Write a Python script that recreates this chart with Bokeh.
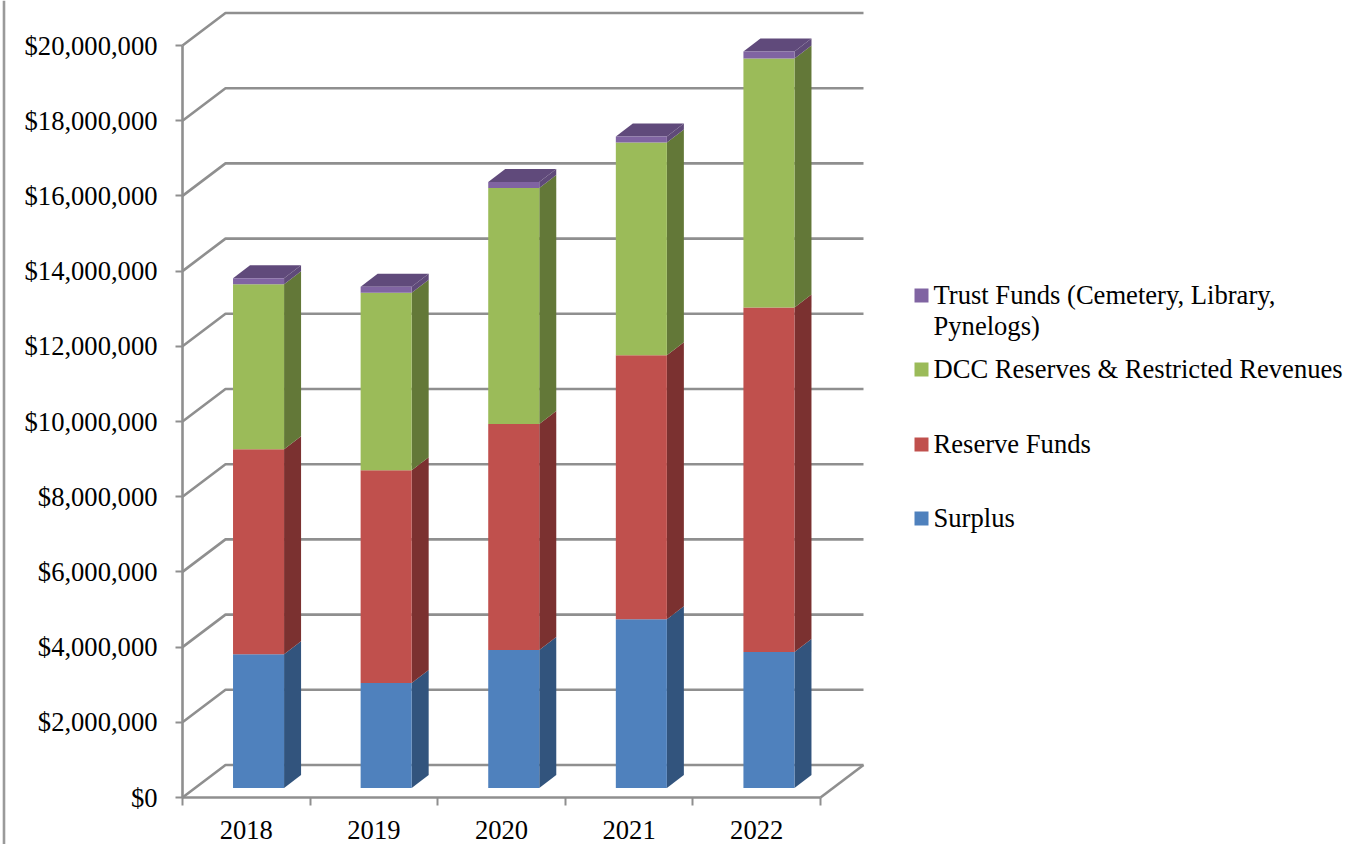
from bokeh.embed import file_html
from bokeh.resources import INLINE
from bokeh.plotting import figure
from bokeh.models import LinearAxis, FixedTicker, Range1d
from bokeh.core.properties import value

# Chart data, in millions of dollars
years = ["2018", "2019", "2020", "2021", "2022"]
surplus = [3.56, 2.79, 3.67, 4.49, 3.62]
reserve_funds = [5.45, 5.66, 6.01, 7.02, 9.16]
dcc_reserves = [4.39, 4.72, 6.28, 5.66, 6.62]
trust_funds = [0.16, 0.16, 0.16, 0.16, 0.19]

y_ticks = [0, 2, 4, 6, 8, 10, 12, 14, 16, 18, 20]
legend_labels = ["Trust Funds (Cemetery, Library,", "Pynelogs)",
                 "DCC Reserves & Restricted Revenues", "Reserve Funds", "Surplus"]

# (front, side, top) shades for each stacked series
series = [
    (surplus, "#4F81BD", "#32547D", "#3B6089"),
    (reserve_funds, "#C0504D", "#7B3130", "#8C3B39"),
    (dcc_reserves, "#9BBB59", "#637838", "#728A42"),
    (trust_funds, "#8064A2", "#5F4A79", "#604A7B"),
]

W, H = 1358, 844
PX_PER_SLOT = 127.6
PX_PER_MILLION = 37.6
ORIGIN_X, ORIGIN_Y = 182, 797
FONT = "Liberation Serif"
FONT_SIZE = "26.6px"
GRID = "#8F8F8F"
LINE_W = 2.6


def dx(px):
    return px / PX_PER_SLOT


def dy(px):
    return px / PX_PER_MILLION


def sx(px):
    return dx(px - ORIGIN_X)


def sy(px):
    return dy(ORIGIN_Y - px)


p = figure(width=W, height=H, output_backend="svg", toolbar_location=None,
           x_range=Range1d(sx(0), sx(W)), y_range=Range1d(sy(H), sy(0)),
           x_axis_type=None, y_axis_type=None, min_border=0,
           outline_line_color=None, background_fill_color="white")
p.grid.visible = False

# Outer border of the chart area, on the left edge
p.line([sx(3.5), sx(3.5)], [sy(0), sy(H)], line_color="#9A9A9A", line_width=LINE_W)

# Side wall, back wall and floor of the 3D box
wall_dx, wall_dy = dx(43), dy(32.5)
n = len(years)
for t in y_ticks:
    p.line([0, wall_dx, n + wall_dx], [t, t + wall_dy, t + wall_dy],
           line_color=GRID, line_width=LINE_W)
p.line([n, n + wall_dx], [0, wall_dy], line_color=GRID, line_width=LINE_W)

# Stacked 3D columns
bar_left, bar_width = 0.396, 0.4
depth_dx, depth_dy = dx(17), dy(13)
base = dy(9.5)
for i in range(n):
    bottom = base
    for k, (vals, front, side, top_col) in enumerate(series):
        top = bottom + vals[i]
        x0 = i + bar_left
        x1 = x0 + bar_width
        p.patch([x1, x1 + depth_dx, x1 + depth_dx, x1],
                [bottom, bottom + depth_dy, top + depth_dy, top],
                fill_color=side, line_color=None)
        if k == len(series) - 1:
            p.patch([x0, x1, x1 + depth_dx, x0 + depth_dx],
                    [top, top, top + depth_dy, top + depth_dy],
                    fill_color=top_col, line_color=None)
        p.quad(left=x0, right=x1, bottom=bottom, top=top,
               fill_color=front, line_color=None)
        bottom = top

# Value axis
y_axis = LinearAxis(fixed_location=0, bounds=(0, 20),
                    ticker=FixedTicker(ticks=y_ticks),
                    major_label_overrides={t: f"${t * 1000000:,}" for t in y_ticks})
y_axis.axis_line_color = GRID
y_axis.axis_line_width = LINE_W
y_axis.major_tick_line_color = GRID
y_axis.major_tick_line_width = 2
y_axis.major_tick_in = 0
y_axis.major_tick_out = 7
y_axis.minor_tick_line_color = None
y_axis.major_label_standoff = 18
y_axis.major_label_text_font = FONT
y_axis.major_label_text_font_size = FONT_SIZE
y_axis.major_label_text_color = "black"
p.add_layout(y_axis, "left")

# Category axis: ticks on slot boundaries, labels in slot centres
centres = [i + 0.5 for i in range(n)]
x_axis = LinearAxis(fixed_location=0, bounds=(0, n),
                    ticker=FixedTicker(ticks=centres, minor_ticks=list(range(n + 1))),
                    major_label_overrides=dict(zip(centres, years)))
x_axis.axis_line_color = GRID
x_axis.axis_line_width = LINE_W
x_axis.major_tick_line_color = None
x_axis.major_tick_in = 0
x_axis.major_tick_out = 0
x_axis.minor_tick_line_color = GRID
x_axis.minor_tick_line_width = 2
x_axis.minor_tick_in = 0
x_axis.minor_tick_out = 8
x_axis.major_label_standoff = 15
x_axis.major_label_text_font = FONT
x_axis.major_label_text_font_size = FONT_SIZE
x_axis.major_label_text_color = "black"
x_axis.major_label_orientation = "horizontal"
p.add_layout(x_axis, "below")

# Legend, laid out by hand so the wrapped entry keeps its uneven spacing
swatch_rows = [(295, series[3][1]), (369, series[2][1]), (444, series[1][1]), (518, series[0][1])]
for row_y, colour in swatch_rows:
    p.quad(left=sx(914), right=sx(928), bottom=sy(row_y + 7), top=sy(row_y - 7),
           fill_color=colour, line_color=None)
p.text(x=[sx(933)] * len(legend_labels),
       y=[sy(294), sy(325), sy(368), sy(443), sy(517)],
       text=legend_labels, text_font=value(FONT), text_font_size=value(FONT_SIZE),
       text_color="black", text_baseline="middle", text_align="left")

open("out.html", "w").write(file_html(p, INLINE))
